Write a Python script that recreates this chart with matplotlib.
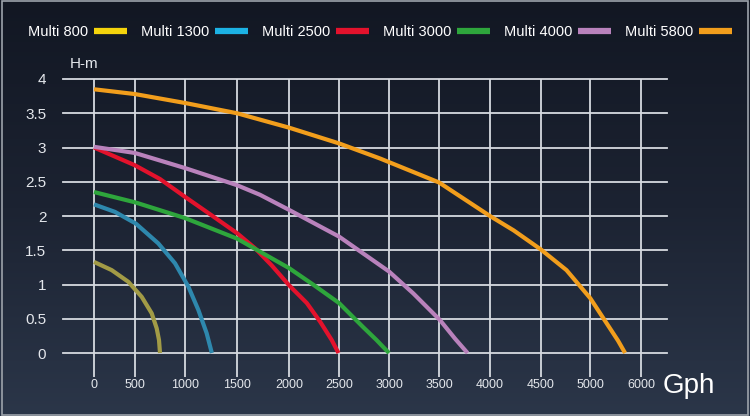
import numpy as np
import matplotlib.pyplot as plt
from matplotlib.lines import Line2D
from matplotlib.patches import Rectangle
from matplotlib.colors import LinearSegmentedColormap

plt.rcParams['font.family'] = ['Liberation Sans', 'DejaVu Sans']

# pump models
names = ['Multi 800', 'Multi 1300', 'Multi 2500', 'Multi 3000', 'Multi 4000', 'Multi 5800']
legend_colors = ['#f5d40c', '#1cb2e4', '#e3122c', '#2ea63c', '#b982bc', '#f29e1c']
curve_colors = ['#a29b46', '#2e88ad', '#e3122c', '#2ea63c', '#b982bc', '#f29e1c']

# flow (Gph) / head (m)
m800_q = [0, 216, 418, 567, 667, 717, 740, 750]
m800_h = [1.33, 1.21, 1.04, 0.82, 0.58, 0.36, 0.19, 0.0]
m1300_q = [0, 256, 508, 733, 900, 1032, 1128, 1208, 1258]
m1300_h = [2.17, 2.06, 1.89, 1.60, 1.31, 0.97, 0.63, 0.29, 0.0]
m2500_q = [0, 500, 750, 1000, 1256, 1500, 1673, 1833, 2000, 2178, 2310, 2427, 2495]
m2500_h = [3.0, 2.74, 2.54, 2.28, 2.01, 1.75, 1.53, 1.28, 0.99, 0.73, 0.46, 0.19, 0.0]
m3000_q = [0, 500, 1000, 1500, 2000, 2250, 2500, 2740, 2875, 3000]
m3000_h = [2.35, 2.2, 1.97, 1.67, 1.24, 0.99, 0.73, 0.38, 0.19, 0.0]
m4000_q = [0, 500, 1000, 1500, 1721, 2000, 2500, 3000, 3243, 3510, 3657, 3780]
m4000_h = [3.01, 2.92, 2.70, 2.45, 2.31, 2.09, 1.70, 1.19, 0.87, 0.48, 0.21, 0.0]
m5800_q = [0, 500, 1000, 1500, 2000, 2500, 2910, 3500, 4000, 4232, 4500, 4760, 5005, 5330, 5550, 5688]
m5800_h = [3.85, 3.78, 3.65, 3.5, 3.29, 3.06, 2.84, 2.49, 2.0, 1.79, 1.51, 1.21, 0.80, 0.43, 0.18, 0.0]

curves_q = [m800_q, m1300_q, m2500_q, m3000_q, m4000_q, m5800_q]
curves_h = [m800_h, m1300_h, m2500_h, m3000_h, m4000_h, m5800_h]

x_ticks = [0, 500, 1000, 1500, 2000, 2500, 3000, 3500, 4000, 4500, 5000, 6000]
y_ticks = [0, 0.5, 1, 1.5, 2, 2.5, 3, 3.5, 4]
y_labels = ['0', '0.5', '1', '1.5', '2', '2.5', '3', '3.5', '4']

# the original axis is not evenly spaced -> piecewise linear scale
scale_q = [-380] + x_ticks + [6510]
scale_px = [63, 94, 135, 185, 237, 289, 339, 389, 439, 490, 541, 590, 641, 667]


def fwd(q):
    return np.interp(q, scale_q, scale_px)


def inv(p):
    return np.interp(p, scale_px, scale_q)


fig = plt.figure(figsize=(7.5, 4.16), dpi=100)

# background gradient
bg = fig.add_axes([0, 0, 1, 1])
bg.axis('off')
cmap = LinearSegmentedColormap.from_list('bg', ['#121723', '#1c2332', '#2b3649'])
bg.imshow(np.linspace(0, 1, 256).reshape(-1, 1), aspect='auto', cmap=cmap, extent=[0, 1, 0, 1])
bg.set_xlim(0, 1)
bg.set_ylim(0, 1)

ax = fig.add_axes([63 / 750, 1 - 377 / 416, 604 / 750, 298 / 416])
ax.set_xscale('function', functions=(fwd, inv))
ax.set_xlim(-380, 6510)
ax.set_ylim(-0.35, 4)
ax.patch.set_alpha(0)
for s in ax.spines.values():
    s.set_visible(False)

grid_col = '#d6dae0'
for y in y_ticks:
    ax.axhline(y, color=grid_col, lw=1.3, clip_on=False, zorder=1)
ax.vlines(x_ticks, -0.35, 4, color=grid_col, lw=1.3, clip_on=False, zorder=1)

for q, h, c in zip(curves_q, curves_h, curve_colors):
    ax.plot(q, h, color=c, lw=3, solid_capstyle='butt', solid_joinstyle='round', zorder=3)

ax.set_xticks(x_ticks)
ax.set_xticklabels([str(t) for t in x_ticks], fontsize=9, color='#e4e7ec')
ax.set_yticks(y_ticks)
ax.set_yticklabels(y_labels, fontsize=11, color='#e4e7ec')
ax.tick_params(axis='both', length=0)
ax.tick_params(axis='x', pad=1.5)
ax.tick_params(axis='y', pad=12)

fig.text(70 / 750, 1 - 64 / 416, 'H-m', fontsize=11, color='#e4e7ec', va='center')
fig.text(663 / 750, 1 - 393 / 416, 'Gph', fontsize=20, color='white', va='baseline')

handles = [Line2D([], [], color=c, lw=4.5, solid_capstyle='butt') for c in legend_colors]
fig.legend(handles, names, loc='center', bbox_to_anchor=(0.507, 1 - 32 / 416), ncol=6,
           frameon=False, markerfirst=False, fontsize=10.5, labelcolor='white',
           handlelength=2.26, handletextpad=0.4, columnspacing=0.96)

fig.patches.append(Rectangle((0.002, 0.003), 0.995, 0.994, transform=fig.transFigure,
                             fill=False, ec='#9da3ab', lw=1.2))

fig.savefig('out.png', dpi=100)
